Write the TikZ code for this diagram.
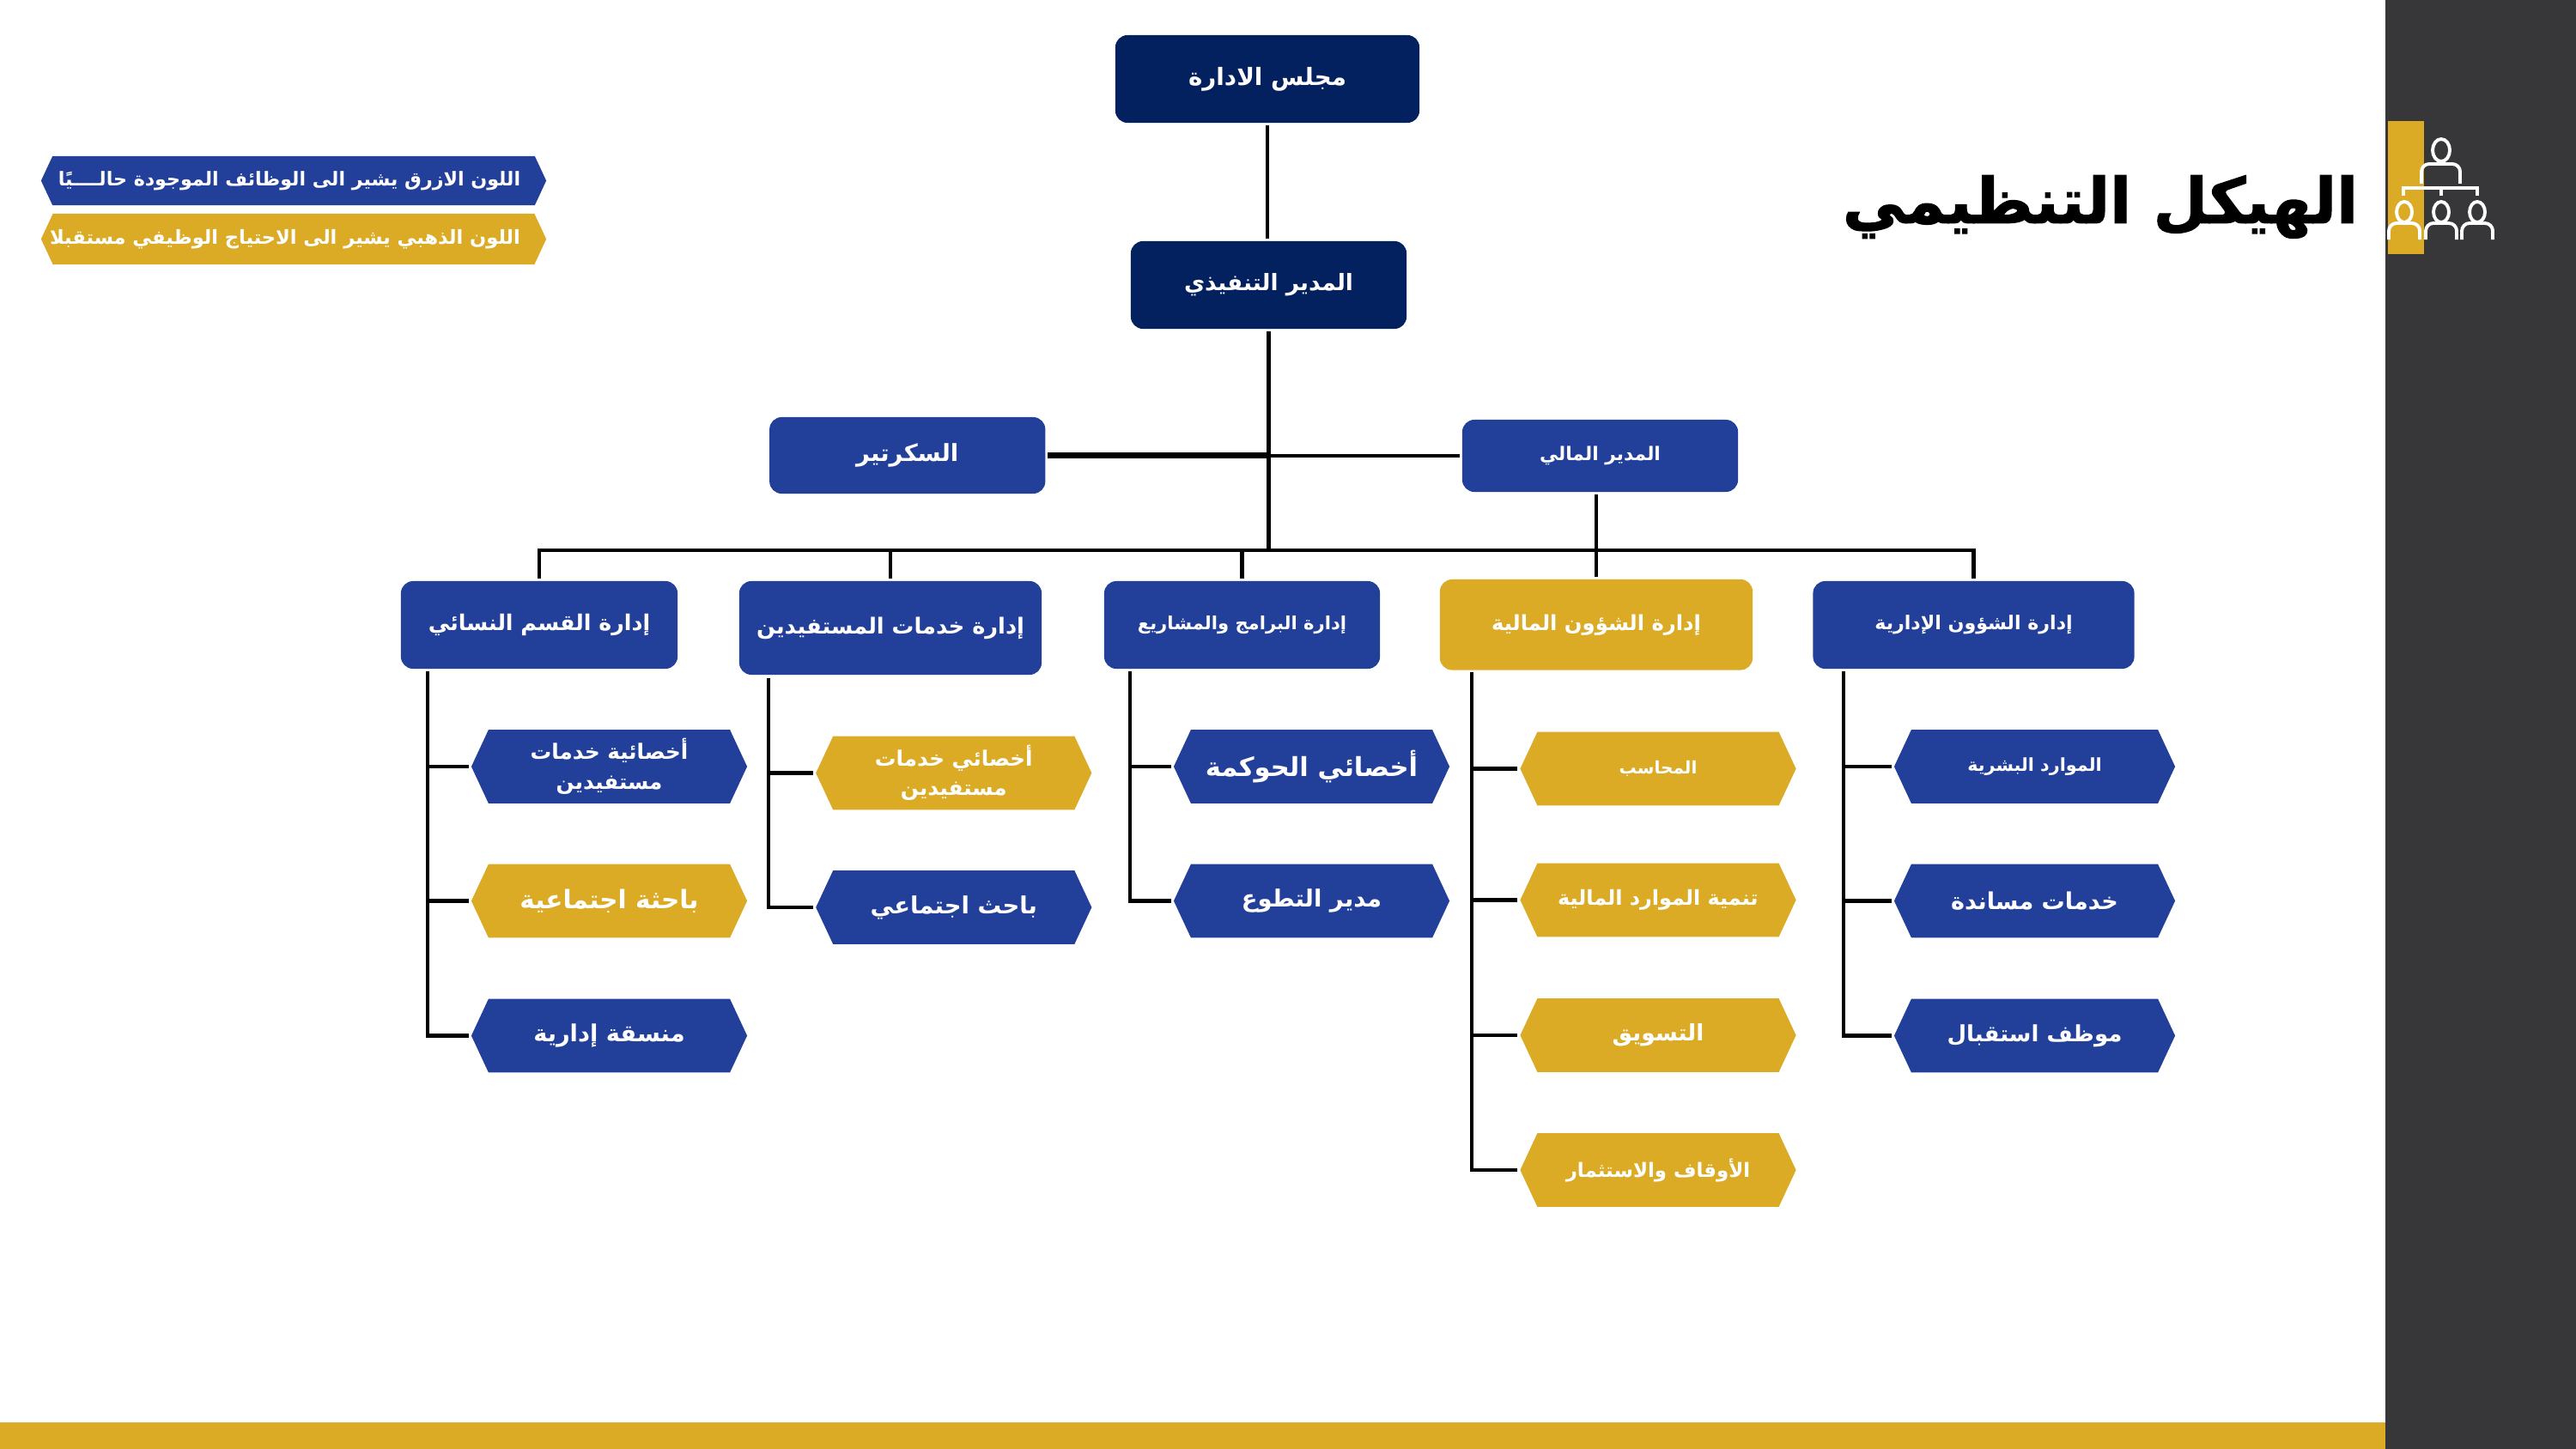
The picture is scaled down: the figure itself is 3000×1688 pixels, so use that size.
\documentclass[tikz,border=0pt]{standalone}
\usepackage{fontspec}
\usepackage{xcolor}
\usetikzlibrary{shapes.symbols}
\TeXXeTstate=1
\newfontfamily\arabicfont[Script=Arabic]{DejaVu Sans}
\newfontfamily\titlefont[Script=Arabic,FakeBold=1.5]{DejaVu Sans Bold}
\newcommand{\artxt}[1]{\beginR #1\endR}
\definecolor{navyc}{HTML}{03215F}
\definecolor{bluec}{HTML}{224099}
\definecolor{goldc}{HTML}{DBAB26}
\definecolor{panelc}{HTML}{37373A}
\tikzset{
	fs/.style={font=\arabicfont\bfseries\fontsize{#1}{9.8pt}\selectfont},
	box/.style={rectangle, rounded corners=4pt, text=white, inner sep=0pt, outer sep=0.85pt},
	hex/.style={signal, signal to=east and west, signal pointer angle=130, text=white,
		inner sep=0pt, outer sep=0.85pt, minimum width=3.21cm, minimum height=0.855cm, align=center},
	link/.style={draw=black, line width=1.35pt}
}
\begin{document}
\begin{tikzpicture}[x=0.01cm,y=-0.01cm]
\useasboundingbox (0,0) rectangle (3000,1688);
\fill[goldc] (0,1657) rectangle (2778,1688);
\fill[panelc] (2778,0) rectangle (3000,1688);
\fill[goldc] (2781,141) rectangle (2823,296);

\node[box, fill=navyc, minimum width=3.54cm, minimum height=1.02cm, fs=7.9] (board) at (1476,92) {\artxt{مجلس الادارة}};
\node[box, fill=navyc, minimum width=3.21cm, minimum height=1.02cm, fs=7.5] (ceo) at (1477.5,332) {\artxt{المدير التنفيذي}};
\node[box, fill=bluec, minimum width=3.21cm, minimum height=0.89cm, fs=7.8] (sec) at (1056.75,530.5) {\artxt{السكرتير}};
\node[box, fill=bluec, minimum width=3.21cm, minimum height=0.84cm, fs=6.2] (finmgr) at (1863.5,531) {\artxt{المدير المالي}};
\node[box, fill=bluec, minimum width=3.22cm, minimum height=1.02cm, fs=7.2] (women) at (628,728) {\artxt{إدارة القسم النسائي}};
\node[box, fill=bluec, minimum width=3.52cm, minimum height=1.09cm, fs=7.3] (benef) at (1037,731.5) {\artxt{إدارة خدمات المستفيدين}};
\node[box, fill=bluec, minimum width=3.21cm, minimum height=1.02cm, fs=6] (prog) at (1446.5,728) {\artxt{إدارة البرامج والمشاريع}};
\node[box, fill=goldc, minimum width=3.64cm, minimum height=1.055cm, fs=6.9] (finance) at (1859,727.75) {\artxt{إدارة الشؤون المالية}};
\node[box, fill=bluec, minimum width=3.74cm, minimum height=1.02cm, fs=6.3] (admin) at (2298.5,728) {\artxt{إدارة الشؤون الإدارية}};

\foreach \nm/\px/\py/\fsz/\txt in {
	womenC/709.5/1206.5/7.75/{منسقة إدارية},
	benefB/1110.75/1057/7.8/{باحث اجتماعي},
	progA/1527.5/893/8.7/{أخصائي الحوكمة},
	progB/1527.5/1049.5/7.8/{مدير التطوع}}
	\node[hex, fill=bluec, fs=\fsz] (\nm) at (\px,\py) {\artxt{\txt}};

\foreach \nm/\px/\py/\fsz/\txt in {
	adminA/2369.5/893/5.9/{الموارد البشرية},
	adminB/2369.5/1049.5/7.7/{خدمات مساندة},
	adminC/2369.5/1206.5/7.4/{موظف استقبال}}
	\node[hex, fill=bluec, minimum width=3.27cm, fs=\fsz] (\nm) at (\px,\py) {\artxt{\txt}};

\foreach \nm/\px/\py/\fsz/\txt in {
	womenB/709.5/1049.5/8.4/{باحثة اجتماعية},
	finA/1931/895.5/5.7/{المحاسب},
	finB/1931/1048.5/6.8/{تنمية الموارد المالية},
	finC/1931/1206/7.5/{التسويق},
	finD/1931/1363/6.5/{الأوقاف والاستثمار}}
	\node[hex, fill=goldc, fs=\fsz] (\nm) at (\px,\py) {\artxt{\txt}};

\node[hex, fill=bluec, fs=7] (womenA) at (709.5,893) {\artxt{أخصائية خدمات}\\\artxt{مستفيدين}};
\node[hex, fill=goldc, fs=7] (benefA) at (1110.75,900.5) {\artxt{أخصائي خدمات}\\\artxt{مستفيدين}};

\node[hex, fill=bluec, minimum width=5.88cm, minimum height=0.57cm, fs=6.3] (legblue) at (342,210.5) {\makebox[0pt]{\artxt{اللون الازرق يشير الى الوظائف الموجودة حالــــيًا}\hspace{0.1cm}}};
\node[hex, fill=goldc, minimum width=5.88cm, minimum height=0.59cm, fs=6.4] (leggold) at (342,278.5) {\makebox[0pt]{\artxt{اللون الذهبي يشير الى الاحتياج الوظيفي مستقبلا}\hspace{0.2cm}}};

\node[font=\titlefont\fontsize{20.8}{25}\selectfont, inner sep=0pt] (title) at (2446,241) {\artxt{الهيكل التنظيمي}};

\coordinate (busmid) at (1477.5,641);
\coordinate (womenRail) at (498,782);
\coordinate (benefRail) at (895,790);
\coordinate (progRail) at (1316,782);
\coordinate (finRail) at (1714,783);
\coordinate (adminRail) at (2147,782);

\draw[link] (board) -- (board |- ceo.north);
\draw[link] (ceo.south) -- (busmid);
\draw[draw=black, line width=2pt] (sec.east) -- (sec.east -| ceo.south);
\draw[link] (finmgr.west) -- (finmgr.west -| ceo.south);
\draw[link] (women.north) |- (busmid) -| (admin.north);
\draw[link] (benef.north) -- (benef.north |- busmid);
\draw[link] (prog.north) -- (prog.north |- busmid);
\draw[link] (finance.north |- finmgr.south) -- (finance.north);

\foreach \kid in {womenA,womenB,womenC}
	\draw[link] (womenRail) |- (\kid.west);
\foreach \kid in {benefA,benefB}
	\draw[link] (benefRail) |- (\kid.west);
\foreach \kid in {progA,progB}
	\draw[link] (progRail) |- (\kid.west);
\foreach \kid in {finA,finB,finC,finD}
	\draw[link] (finRail) |- (\kid.west);
\foreach \kid in {adminA,adminB,adminC}
	\draw[link] (adminRail) |- (\kid.west);

\begin{scope}[draw=white, line width=1.1pt]
\draw (2843,175) ellipse [x radius=10, y radius=13];
\draw (2820,214) -- (2820,200) arc [start angle=180, end angle=270, radius=9] -- (2856,191) arc [start angle=270, end angle=360, radius=9] -- (2865,214);
\draw (2799,228) -- (2799,219) -- (2885,219) -- (2885,228);
\draw (2843,219) -- (2843,228);
\foreach \hx in {2800,2843,2885} {
	\draw (\hx,247) ellipse [x radius=9, y radius=12];
	\draw (\hx-18,279) -- (\hx-18,269) arc [start angle=180, end angle=270, radius=9] -- (\hx+9,260) arc [start angle=270, end angle=360, radius=9] -- (\hx+18,279);
}
\end{scope}
\end{tikzpicture}
\end{document}
